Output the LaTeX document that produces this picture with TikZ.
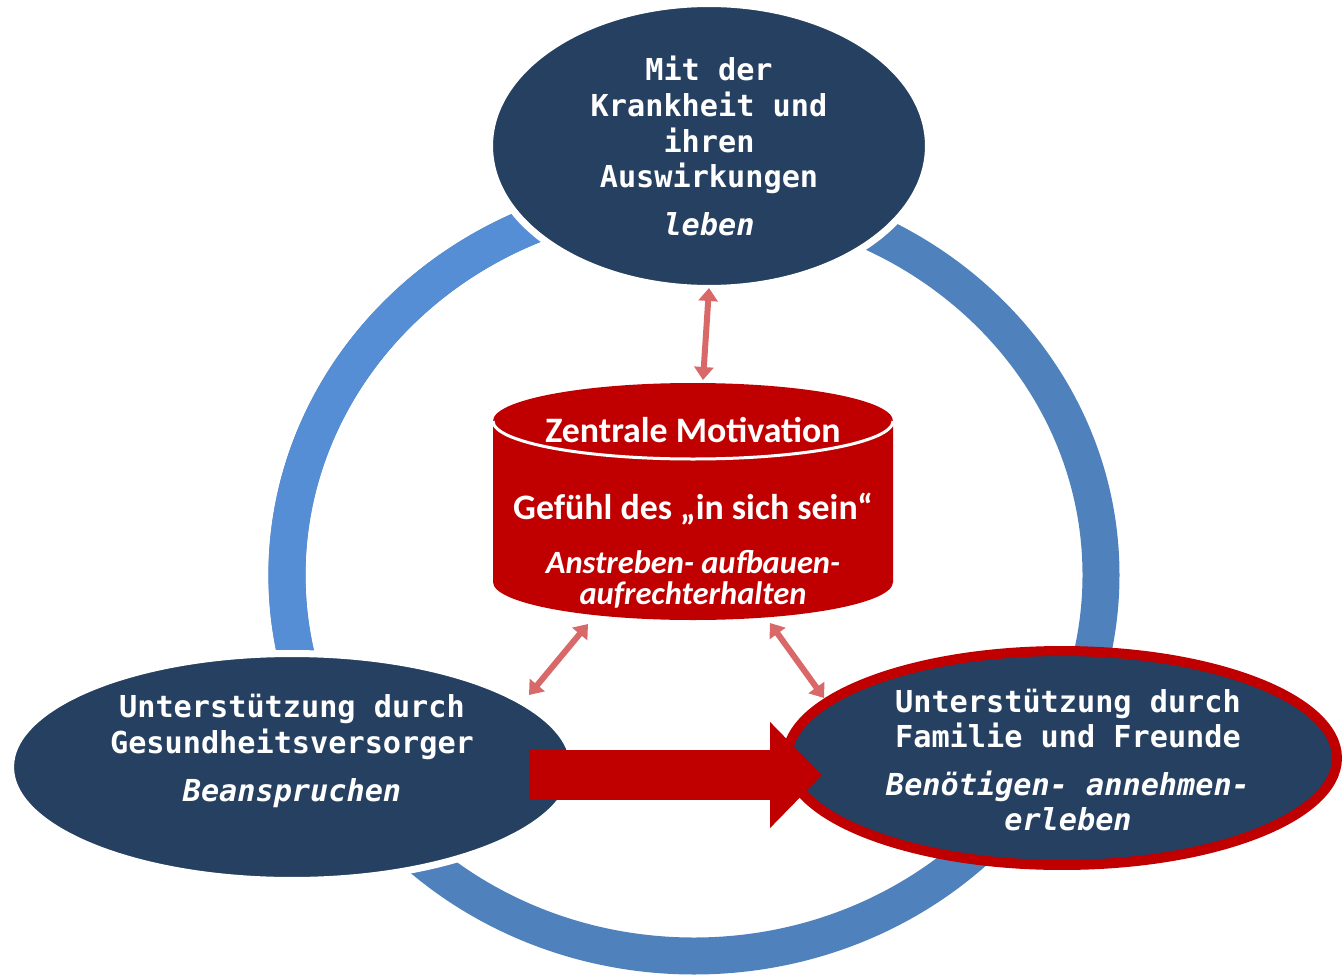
\documentclass[tikz,border=0pt]{standalone}
\usepackage{fontspec}
\newfontfamily\consolfont{DejaVu Sans Mono}
\newfontfamily\calfont{Carlito}
\usetikzlibrary{shapes.geometric,arrows.meta,calc}
\definecolor{navy}{HTML}{254061}
\definecolor{ringblue}{HTML}{4F81BD}
\definecolor{ringlight}{HTML}{558ED5}
\definecolor{darkred}{HTML}{C00000}
\definecolor{arrowpink}{HTML}{D96868}
\tikzset{
  bubble/.style={ellipse, fill=navy, inner sep=0pt},
  bubbletext/.style={text=white, align=center, inner sep=0pt, font=\consolfont\bfseries\fontsize{17.2}{20.3}\selectfont},
  cyltext/.style={text=white, anchor=base, inner sep=0pt, font=\calfont\bfseries\fontsize{20.4}{22}\selectfont},
  dblarrow/.style={arrowpink, line width=0.12cm, {Triangle[length=0.26cm,width=0.38cm]}-{Triangle[length=0.26cm,width=0.38cm]}},
  bigarrow/.style={darkred, line width=1cm, -{Triangle[length=1.04cm,width=2.06cm]}}
}
\begin{document}
\begin{tikzpicture}[x=0.02cm, y=-0.02cm]
  \useasboundingbox (0,0) rectangle (1342,977);
  \coordinate (ringc) at (694,575);
  \draw [ringblue, line width=0.74cm] (ringc) ellipse [x radius=407, y radius=381];
  \draw [ringlight, line width=0.74cm] ($(ringc)+(160:407 and 381)$) arc [start angle=160, end angle=250, x radius=407, y radius=381];

  \node [bubble, draw=white, line width=0.14cm, minimum width=8.78cm, minimum height=5.7cm] (top) at (709,146) {};
  \node [bubble, draw=white, line width=0.14cm, minimum width=11.26cm, minimum height=4.54cm] (left) at (292,767) {};
  \node [bubble, draw=darkred, line width=0.2cm, minimum width=11cm, minimum height=4.28cm] (right) at (1062,758) {};

  \node [bubbletext] (toptext) at ($(top)+(0,0)$) {Mit der\\Krankheit und\\ihren\\Auswirkungen\\[6.8pt]\itshape leben};
  \node [bubbletext] (lefttext) at ($(left)+(0,-16)$) {Unterstützung durch\\Gesundheitsversorger\\[6.8pt]\itshape Beanspruchen};
  \node [bubbletext] (righttext) at ($(right)+(6,2)$) {Unterstützung durch\\Familie und Freunde\\[6.8pt]\itshape Benötigen- annehmen-\\\itshape erleben};

  % zylinder
  \coordinate (motiv) at (693,502);
  \fill [darkred] (493,421) -- (493,582) arc [start angle=180, end angle=0, x radius=200, y radius=38]
    -- (893,421) arc [start angle=0, end angle=-180, x radius=200, y radius=38] -- cycle;
  \draw [white, line width=0.06cm] (493,421) arc [start angle=180, end angle=0, x radius=200, y radius=38];
  \node [cyltext] (motivtitle) at (693,442) {Zentrale Motivation};
  \node [cyltext] (motivfeel) at (693,519) {Gefühl des „in sich sein“};
  \node [cyltext, align=center, font=\calfont\bfseries\itshape\fontsize{18.5}{17.6}\selectfont] (motivaim) at (693,604) {Anstreben- aufbauen-\\aufrechterhalten};

  \draw [dblarrow] ($(top)+(0,142)$) -- ($(motiv)+(10,-122)$);
  \draw [dblarrow] ($(motiv)+(-105,122)$) -- ($(left)+(237,-72)$);
  \draw [dblarrow] ($(motiv)+(77,121)$) -- ($(right)+(-238,-60)$);
  \draw [bigarrow] ($(left)+(237,8)$) -- ($(right)+(-240,17)$);
\end{tikzpicture}
\end{document}
